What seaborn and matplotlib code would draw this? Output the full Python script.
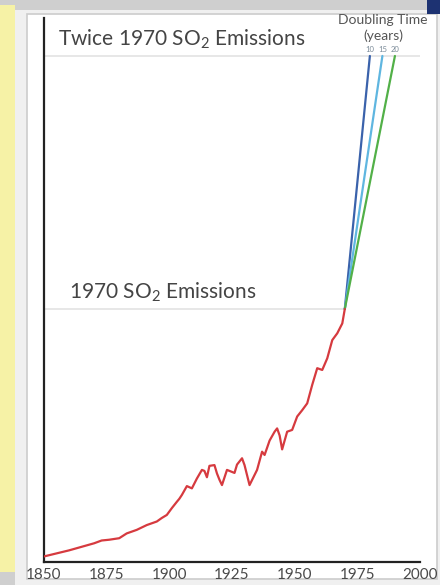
import matplotlib
matplotlib.use("Agg")
import matplotlib.pyplot as plt
import matplotlib.patches as mpatches
import seaborn as sns
import pandas as pd

# ---- data (value relative to 1970 emissions) ----
years = [1850, 1855, 1860, 1865, 1870, 1873, 1876, 1880, 1883, 1887, 1891, 1895,
         1897, 1899, 1901, 1903, 1904, 1905, 1907, 1909, 1911, 1913, 1914, 1915,
         1916, 1918, 1919, 1920, 1921, 1923, 1924, 1926, 1927, 1929, 1930, 1932,
         1935, 1937, 1938, 1940, 1942, 1943, 1944, 1945, 1947, 1949, 1951, 1953,
         1955, 1957, 1959, 1961, 1963, 1965, 1967, 1969, 1970]
so2 = [0.022, 0.034, 0.046, 0.060, 0.074, 0.085, 0.088, 0.094, 0.113, 0.127, 0.146, 0.160,
       0.174, 0.186, 0.213, 0.238, 0.250, 0.265, 0.300, 0.291, 0.330, 0.364, 0.360, 0.335,
       0.380, 0.383, 0.350, 0.325, 0.304, 0.364, 0.360, 0.352, 0.385, 0.410, 0.383, 0.304,
       0.364, 0.436, 0.423, 0.480, 0.515, 0.528, 0.500, 0.445, 0.515, 0.522, 0.575, 0.600,
       0.627, 0.700, 0.766, 0.759, 0.805, 0.877, 0.904, 0.943, 1.000]
doubling_times = [10, 15, 20]
base_year = 1970
proj_colors = ["#3a62ab", "#5fb6e0", "#52b048"]
xticks = [1850, 1875, 1900, 1925, 1950, 1975, 2000]
label_once = "1970 SO$_2$ Emissions"
label_twice = "Twice 1970 SO$_2$ Emissions"

sns.set_style("white")
plt.rcParams["font.family"] = ["Lato", "DejaVu Sans"]
plt.rcParams["mathtext.default"] = "regular"

W, H = 440, 585
fig = plt.figure(figsize=(W / 100, H / 100), dpi=100)
fig.patch.set_facecolor("#cfcfcf")

def px_rect(x0, y0, x1, y1, **kw):
    r = mpatches.Rectangle((x0 / W, 1 - y1 / H), (x1 - x0) / W, (y1 - y0) / H,
                           transform=fig.transFigure, figure=fig, zorder=0, **kw)
    fig.patches.append(r)

# slide background pieces
px_rect(0, 5, 15, 572, facecolor="#f6f2a6", edgecolor="none")
px_rect(15, 10, 440, 585, facecolor="#f0f0f0", edgecolor="none")
px_rect(27, 14, 437, 579, facecolor="white", edgecolor="#cccccc", linewidth=1.2)
px_rect(427, 0, 440, 14, facecolor="#1d3272", edgecolor="none")

ax = fig.add_axes([44 / W, 1 - 562 / H, (420 - 44) / W, (562 - 18) / H])
ax.set_facecolor("none")
ax.set_zorder(5)

df = pd.DataFrame({"year": years, "so2": so2})

# reference lines
ax.plot([1850, base_year], [1, 1], color="#e3e3e3", lw=1.2, zorder=1)
ax.plot([1850, 2000], [2, 2], color="#e3e3e3", lw=1.2, zorder=1)

sns.lineplot(data=df, x="year", y="so2", ax=ax, color="#d63a3f", lw=1.6, zorder=3)

for t, c in zip(doubling_times, proj_colors):
    pdf = pd.DataFrame({"year": [base_year, base_year + t], "so2": [1.0, 2.0]})
    sns.lineplot(data=pdf, x="year", y="so2", ax=ax, color=c, lw=1.6, zorder=2)
    ax.text(base_year + t, 2.01, str(t), ha="center", va="bottom", fontsize=5.5,
            color="#7a8a98")

ax.set_xlim(1850, 2000)
ax.set_ylim(0, 2.15)
ax.set_xticks(xticks)
ax.set_xticklabels([str(x) for x in xticks])
ax.set_yticks([])
ax.set_xlabel("")
ax.set_ylabel("")
for s in ["top", "right"]:
    ax.spines[s].set_visible(False)
for s in ["left", "bottom"]:
    ax.spines[s].set_color("#222222")
    ax.spines[s].set_linewidth(1.6)
ax.tick_params(axis="x", direction="out", length=3, width=1, color="#222222",
               labelsize=11, labelcolor="#4a4a4a", pad=1)

ax.text(1855.5, 2.02, label_twice, fontsize=15, color="#444444", ha="left",
        va="bottom")
ax.text(1860, 1.02, label_once, fontsize=15, color="#444444", ha="left",
        va="bottom")

fig.text(383 / W, 1 - 14 / H, "Doubling Time", fontsize=10, color="#555555",
         ha="center", va="top", zorder=6)
fig.text(383 / W, 1 - 29 / H, "(years)", fontsize=10, color="#555555",
         ha="center", va="top", zorder=6)

fig.savefig("out.png", dpi=100, facecolor=fig.get_facecolor())
